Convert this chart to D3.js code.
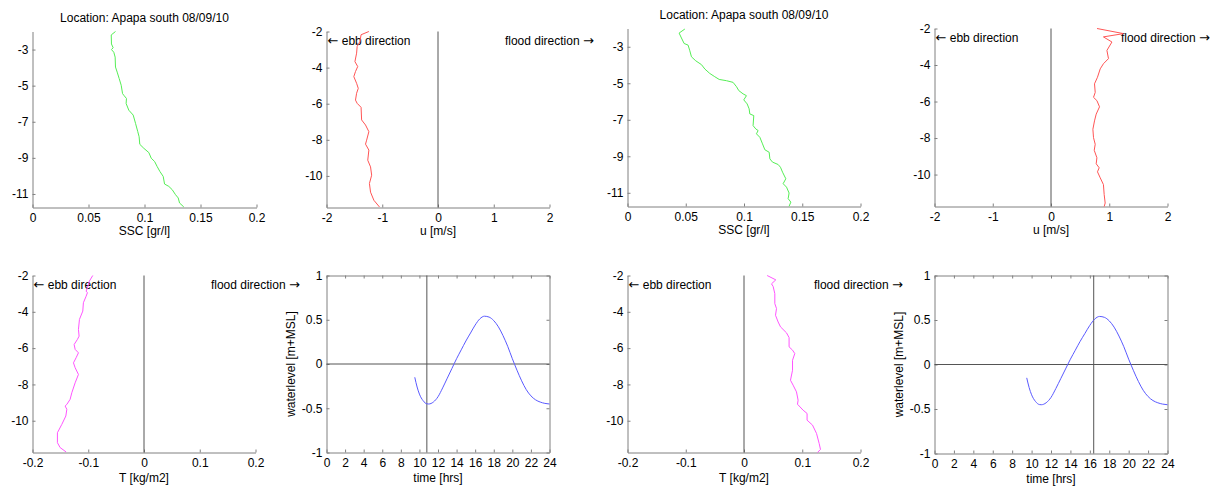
<!DOCTYPE html>
<html><head><meta charset="utf-8">
<script src="https://cdn.jsdelivr.net/npm/d3@7"></script>
<style>
html,body{margin:0;padding:0;background:#fff;}
svg{display:block;font-family:"Liberation Sans",Arial,sans-serif;}
.axis .domain,.axis line{stroke:#808080;stroke-width:1;}
.axis text{fill:#000;font-size:12px;font-family:"Liberation Sans",Arial,sans-serif;}
.lbl{font-size:12px;fill:#000;}
.arrow{font-family:"DejaVu Sans",sans-serif;font-size:13px;}
</style></head>
<body>
<svg id="chart" width="1221" height="488"></svg>
<script>
// ---------------- DATA ----------------
const titleText = "Location: Apapa south 08/09/10";
const depthTicksOdd = [-3, -5, -7, -9, -11];
const depthTicksEven = [-2, -4, -6, -8, -10];
const sscTicks = [0, 0.05, 0.1, 0.15, 0.2];
const uTicks = [-2, -1, 0, 1, 2];
const tTicks = [-0.2, -0.1, 0, 0.1, 0.2];
const timeTicks = [0, 2, 4, 6, 8, 10, 12, 14, 16, 18, 20, 22, 24];
const wlTicks = [-1, -0.5, 0, 0.5, 1];
const measurementTimes = [10.8, 16.4];

// [depth (m), SSC (gr/l)]
const sscProfileA = [[-2.0,0.0741],[-2.19,0.0703],[-2.69,0.0705],[-2.9,0.072],[-3.0,0.0705],[-3.15,0.0726],[-3.42,0.0738],[-3.97,0.0741],[-4.25,0.0756],[-4.61,0.0774],[-4.98,0.0792],[-5.44,0.0804],[-5.53,0.0815],[-5.71,0.0839],[-5.99,0.0836],[-6.36,0.086],[-6.63,0.0899],[-7.09,0.092],[-7.55,0.094],[-7.83,0.0952],[-8.25,0.0958],[-8.47,0.0994],[-8.71,0.1039],[-9.02,0.106],[-9.2,0.109],[-9.48,0.1113],[-9.75,0.1137],[-10.03,0.1167],[-10.45,0.1179],[-10.58,0.1217],[-10.76,0.1247],[-11.04,0.1277],[-11.22,0.1301],[-11.5,0.1313],[-11.72,0.1351]];
const sscProfileB = [[-2.03,0.0492],[-2.25,0.0443],[-2.52,0.0463],[-2.82,0.0486],[-2.91,0.052],[-3.22,0.0535],[-3.55,0.0549],[-3.77,0.0586],[-3.98,0.0635],[-4.22,0.0664],[-4.46,0.0706],[-4.64,0.0749],[-4.79,0.0787],[-4.86,0.085],[-4.95,0.0906],[-5.19,0.0936],[-5.40,0.0955],[-5.58,0.0992],[-5.68,0.1021],[-5.91,0.0998],[-6.13,0.1027],[-6.4,0.1044],[-6.68,0.105],[-6.77,0.1084],[-7.32,0.1078],[-7.5,0.1101],[-7.59,0.1121],[-7.77,0.1107],[-7.96,0.1136],[-8.32,0.1159],[-8.64,0.1179],[-8.78,0.1216],[-9.14,0.1222],[-9.32,0.1245],[-9.45,0.1293],[-9.6,0.1313],[-9.87,0.1331],[-10.23,0.1359],[-10.5,0.1336],[-10.69,0.1365],[-11.01,0.1387],[-11.32,0.1379],[-11.51,0.1402],[-11.74,0.1387]];
// [depth (m), u (m/s)]
const uProfileA = [[-2.0,-1.24],[-2.18,-1.38],[-2.55,-1.40],[-2.83,-1.45],[-3.2,-1.46],[-3.67,-1.49],[-3.94,-1.44],[-4.22,-1.48],[-4.5,-1.51],[-4.87,-1.46],[-5.15,-1.43],[-5.42,-1.46],[-5.8,-1.48],[-5.98,-1.45],[-6.2,-1.38],[-6.9,-1.37],[-7.18,-1.30],[-7.55,-1.24],[-8.02,-1.28],[-8.24,-1.30],[-8.57,-1.24],[-9.13,-1.26],[-9.5,-1.21],[-9.96,-1.19],[-10.42,-1.23],[-10.9,-1.21],[-11.35,-1.15],[-11.72,-1.05]];
const uProfileB = [[-2.0,0.79],[-2.28,1.245],[-2.46,0.90],[-2.74,1.046],[-3.2,0.96],[-3.65,0.987],[-3.93,0.90],[-4.21,0.845],[-4.67,0.798],[-5.03,0.747],[-5.5,0.759],[-5.77,0.73],[-5.95,0.788],[-6.29,0.833],[-6.69,0.776],[-7.06,0.747],[-7.52,0.719],[-7.98,0.73],[-8.34,0.759],[-8.67,0.742],[-9.08,0.788],[-9.41,0.776],[-9.63,0.827],[-9.85,0.798],[-10.18,0.845],[-10.55,0.90],[-11.1,0.913],[-11.56,0.93],[-11.75,0.913]];
// [depth (m), T (kg/m2)]
const tProfileA = [[-2.0,-0.0919],[-2.31,-0.098],[-2.68,-0.1015],[-2.86,-0.1038],[-2.95,-0.1015],[-3.14,-0.1038],[-3.5,-0.1087],[-3.96,-0.1098],[-4.42,-0.1158],[-4.97,-0.1176],[-5.34,-0.1164],[-5.52,-0.1194],[-5.8,-0.1253],[-6.07,-0.1235],[-6.26,-0.1176],[-6.53,-0.1218],[-6.81,-0.1265],[-7.08,-0.1235],[-7.45,-0.1176],[-7.91,-0.1235],[-8.46,-0.1295],[-8.82,-0.1325],[-9.1,-0.1384],[-9.19,-0.1415],[-9.37,-0.1384],[-9.74,-0.1402],[-10.2,-0.1474],[-10.66,-0.1553],[-11.21,-0.1553],[-11.48,-0.1504],[-11.72,-0.1397]];
const tProfileB = [[-2.0,0.0397],[-2.24,0.0546],[-2.46,0.0472],[-2.6,0.05],[-3.0,0.0529],[-3.55,0.0529],[-3.82,0.0558],[-4.19,0.0541],[-4.56,0.0586],[-4.83,0.0627],[-5.16,0.073],[-5.42,0.0774],[-5.93,0.0774],[-6.11,0.0833],[-6.3,0.0872],[-6.67,0.0833],[-7.22,0.0833],[-7.77,0.0798],[-8.04,0.0843],[-8.41,0.0901],[-8.87,0.0929],[-9.09,0.0918],[-9.42,0.1015],[-9.6,0.1083],[-9.97,0.1083],[-10.24,0.1176],[-10.7,0.1245],[-11.25,0.129],[-11.58,0.1313],[-11.75,0.1262]];
// [time (hrs), waterlevel (m+MSL)]
const waterLevel = [[9.5,-0.15],[9.75,-0.26],[10.0,-0.34],[10.4,-0.415],[10.8,-0.45],[11.0,-0.452],[11.5,-0.43],[12.0,-0.37],[12.5,-0.27],[13.0,-0.16],[13.5,-0.05],[14.0,0.06],[14.5,0.16],[15.0,0.26],[15.5,0.35],[16.0,0.44],[16.5,0.51],[17.0,0.54],[17.5,0.53],[18.0,0.49],[18.5,0.42],[19.0,0.32],[19.5,0.2],[20.0,0.06],[20.5,-0.07],[21.0,-0.19],[21.5,-0.29],[22.0,-0.36],[22.5,-0.405],[23.0,-0.43],[23.5,-0.445],[24,-0.452]];

// ---------------- DRAW ----------------
const svg = d3.select("#chart");
const fmt = d => String(d);
const depthDomain = [-11.75, -2];

function profilePanel(o) {
  const g = svg.append("g");
  const x = d3.scaleLinear().domain(o.xDomain).range([o.x0, o.x1]);
  const y = d3.scaleLinear().domain(depthDomain).range([o.y1, o.y0]);
  g.append("g").attr("class","axis").attr("transform",`translate(0,${o.y1})`)
    .call(d3.axisBottom(x).tickValues(o.xTicks).tickFormat(fmt).tickSizeInner(-3).tickSizeOuter(0).tickPadding(6));
  g.append("g").attr("class","axis").attr("transform",`translate(${o.x0},0)`)
    .call(d3.axisLeft(y).tickValues(o.yTicks).tickFormat(fmt).tickSizeInner(-3).tickSizeOuter(0).tickPadding(4));
  if (o.zero) {
    g.append("line").attr("x1",x(0)).attr("x2",x(0)).attr("y1",o.y0).attr("y2",o.y1)
      .attr("stroke","#555").attr("stroke-width",1);
    const ebb = g.append("text").attr("class","lbl").attr("x",o.x0+1).attr("y",y(-2.5)).attr("dy","0.35em");
    ebb.append("tspan").attr("class","arrow").text("\u2190");
    ebb.append("tspan").text(" ebb direction");
    const fl = g.append("text").attr("class","lbl").attr("x",x(o.xDomain[1]*0.6)).attr("y",y(-2.5)).attr("dy","0.35em");
    fl.append("tspan").text("flood direction ");
    fl.append("tspan").attr("class","arrow").text("\u2192");
  }
  const line = d3.line().x(d => x(d[1])).y(d => y(d[0]));
  g.append("path").datum(o.data).attr("d",line).attr("fill","none")
    .attr("stroke",o.color).attr("stroke-width",1);
  g.append("text").attr("class","lbl").attr("x",(o.x0+o.x1)/2).attr("y",o.y1+o.labelOff)
    .attr("text-anchor","middle").text(o.xLabel);
  if (o.title) {
    g.append("text").attr("class","lbl").attr("x",(o.x0+o.x1)/2).attr("y",o.y0-10)
      .attr("text-anchor","middle").text(o.title);
  }
}

function tidePanel(o) {
  const g = svg.append("g");
  const x = d3.scaleLinear().domain([0,24]).range([o.x0, o.x1]);
  const y = d3.scaleLinear().domain([-1,1]).range([o.y1, o.y0]);
  g.append("g").attr("class","axis").attr("transform",`translate(0,${o.y1})`)
    .call(d3.axisBottom(x).tickValues(timeTicks).tickFormat(fmt).tickSizeInner(-3).tickSizeOuter(0).tickPadding(6));
  g.append("g").attr("class","axis").attr("transform",`translate(0,${o.y0})`)
    .call(d3.axisTop(x).tickValues(timeTicks).tickFormat("").tickSizeInner(-3).tickSizeOuter(0));
  g.append("g").attr("class","axis").attr("transform",`translate(${o.x0},0)`)
    .call(d3.axisLeft(y).tickValues(wlTicks).tickFormat(fmt).tickSizeInner(-3).tickSizeOuter(0).tickPadding(4));
  g.append("g").attr("class","axis").attr("transform",`translate(${o.x1},0)`)
    .call(d3.axisRight(y).tickValues(wlTicks).tickFormat("").tickSizeInner(-3).tickSizeOuter(0));
  g.append("line").attr("x1",o.x0).attr("x2",o.x1).attr("y1",y(0)).attr("y2",y(0))
    .attr("stroke","#555").attr("stroke-width",1);
  g.append("line").attr("x1",x(o.t)).attr("x2",x(o.t)).attr("y1",o.y0).attr("y2",o.y1)
    .attr("stroke","#555").attr("stroke-width",1);
  const line = d3.line().x(d => x(d[0])).y(d => y(d[1])).curve(d3.curveMonotoneX);
  g.append("path").datum(waterLevel).attr("d",line).attr("fill","none")
    .attr("stroke","#5a5aff").attr("stroke-width",1);
  g.append("text").attr("class","lbl").attr("x",(o.x0+o.x1)/2).attr("y",o.y1+29)
    .attr("text-anchor","middle").text("time [hrs]");
  g.append("text").attr("class","lbl").attr("transform",`translate(${o.x0-36},${(o.y0+o.y1)/2}) rotate(-90)`)
    .attr("text-anchor","middle").attr("dy","0.35em").text("waterlevel [m+MSL]");
}

profilePanel({x0:32.5,x1:256.5,y0:31.5,y1:207.5,xDomain:[0,0.2],xTicks:sscTicks,yTicks:depthTicksOdd,
  data:sscProfileA,color:"#55ee55",xLabel:"SSC [gr/l]",title:titleText,labelOff:27});
profilePanel({x0:326.5,x1:549.5,y0:31.5,y1:207.5,xDomain:[-2,2],xTicks:uTicks,yTicks:depthTicksEven,
  data:uProfileA,color:"#ff5555",xLabel:"u [m/s]",zero:true,labelOff:27});
profilePanel({x0:627.5,x1:860.5,y0:28.5,y1:206.5,xDomain:[0,0.2],xTicks:sscTicks,yTicks:depthTicksOdd,
  data:sscProfileB,color:"#55ee55",xLabel:"SSC [gr/l]",title:titleText,labelOff:27});
profilePanel({x0:934.5,x1:1167.5,y0:28.5,y1:206.5,xDomain:[-2,2],xTicks:uTicks,yTicks:depthTicksEven,
  data:uProfileB,color:"#ff5555",xLabel:"u [m/s]",zero:true,labelOff:27});
profilePanel({x0:32.5,x1:255.5,y0:275.5,y1:452.5,xDomain:[-0.2,0.2],xTicks:tTicks,yTicks:depthTicksEven,
  data:tProfileA,color:"#ff55ff",xLabel:"T [kg/m2]",zero:true,labelOff:29});
profilePanel({x0:627.5,x1:860.5,y0:275.5,y1:452.5,xDomain:[-0.2,0.2],xTicks:tTicks,yTicks:depthTicksEven,
  data:tProfileB,color:"#ff55ff",xLabel:"T [kg/m2]",zero:true,labelOff:29});
tidePanel({x0:326.5,x1:549.5,y0:275.5,y1:452.5,t:measurementTimes[0]});
tidePanel({x0:934.5,x1:1167.5,y0:275.5,y1:453.5,t:measurementTimes[1]});
</script>
</body></html>
